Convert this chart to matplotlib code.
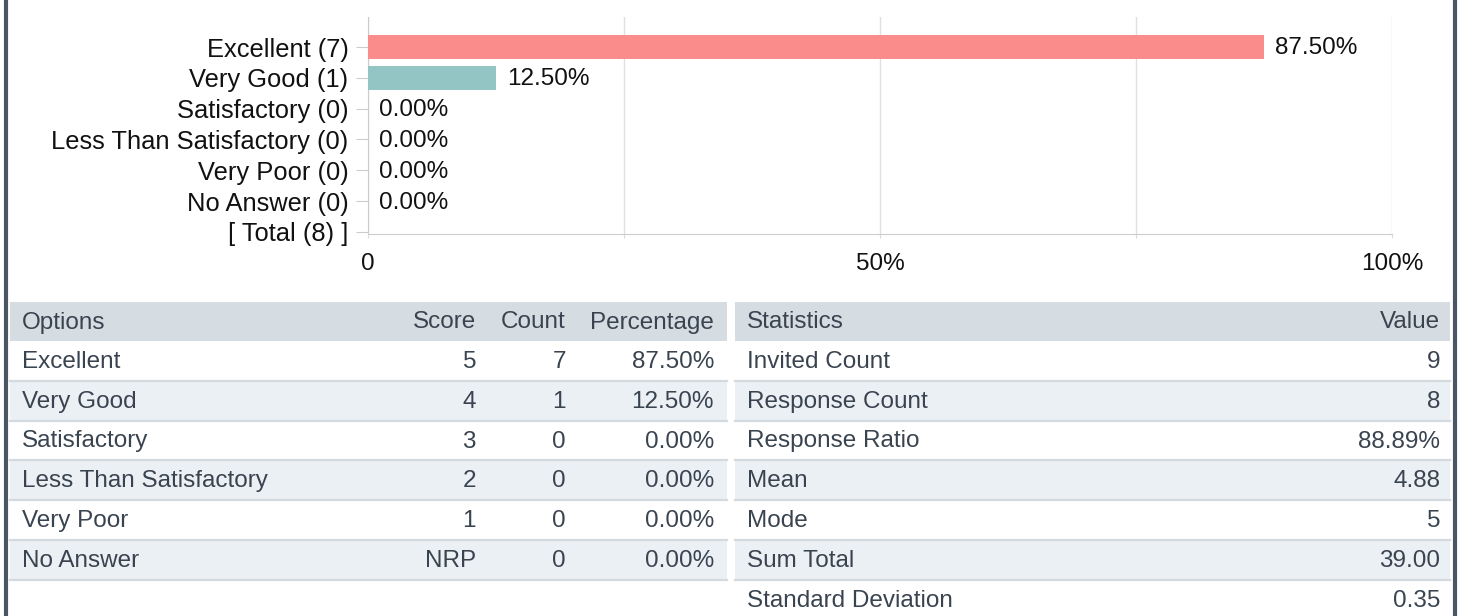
import matplotlib.pyplot as plt
from matplotlib.patches import Rectangle

# ---- data ----
options = ['Excellent', 'Very Good', 'Satisfactory', 'Less Than Satisfactory', 'Very Poor', 'No Answer']
scores = ['5', '4', '3', '2', '1', 'NRP']
counts = [7, 1, 0, 0, 0, 0]
percents = [87.50, 12.50, 0.00, 0.00, 0.00, 0.00]
total = 8
bar_colors = ['#fa8c8c', '#92c5c4', '#cccccc', '#cccccc', '#cccccc', '#cccccc']

stat_names = ['Invited Count', 'Response Count', 'Response Ratio', 'Mean', 'Mode',
              'Sum Total', 'Standard Deviation']
stat_values = ['9', '8', '88.89%', '4.88', '5', '39.00', '0.35']

xticks = [0, 25, 50, 75, 100]
xtick_labels = ['0', '', '50%', '', '100%']

W, H = 1459, 616
FONT = 'Liberation Sans'
TXT = '#111111'
TBL_TXT = '#3a4450'
HEAD_BG = '#d6dde2'
ALT_BG = '#ebf0f4'
SEP = '#d3dae0'
BORDER = '#4b5563'

plt.rcParams['font.family'] = FONT
fig = plt.figure(figsize=(W / 100, H / 100), dpi=100)

# ---- bar chart ----
ax = fig.add_axes([368 / W, 1 - 234 / H, (1392 - 368) / W, (234 - 17) / H])
labels = [f'{o} ({c})' for o, c in zip(options, counts)] + [f'[ Total ({total}) ]']
ypos = list(range(len(labels)))
ax.barh(ypos[:-1], percents, height=0.78, color=bar_colors[:len(percents)], zorder=3)
for y, p in zip(ypos, percents):
    ax.annotate(f'{p:.2f}%', (p, y), xytext=(8, -1), textcoords='offset points',
                va='center', ha='left', fontsize=17.5, color=TXT)
ax.set_xlim(0, 100)
ax.set_ylim(6.065, -0.973)
ax.set_yticks(ypos)
ax.set_yticklabels(labels, fontsize=18.4, color=TXT)
ax.set_xticks(xticks)
ax.set_xticklabels(xtick_labels, fontsize=17.5, color=TXT)
ax.tick_params(axis='y', length=9, color='#cccccc', pad=5)
ax.tick_params(axis='x', length=3, color='#dddddd', pad=11)
ax.grid(axis='x', color='#e0e0e0', lw=1, zorder=0)
for s in ['top', 'right']:
    ax.spines[s].set_visible(False)
for s in ['left', 'bottom']:
    ax.spines[s].set_color('#cccccc')

# ---- tables (pixel coordinates) ----
tb = fig.add_axes([0, 0, 1, 1])
tb.set_xlim(0, W)
tb.set_ylim(H, 0)
tb.axis('off')

HEAD_TOP, HEAD_BOT, ROW_H = 302, 341, 39.8
TFS = 17.5


def draw_table(x0, x1, headers, cols_x, aligns, rows):
    tb.add_patch(Rectangle((x0, HEAD_TOP), x1 - x0, HEAD_BOT - HEAD_TOP, color=HEAD_BG, lw=0))
    for h, cx, al in zip(headers, cols_x, aligns):
        tb.text(cx, (HEAD_TOP + HEAD_BOT) / 2 + 1, h, ha=al, va='center', fontsize=TFS, color=TBL_TXT)
    for i, row in enumerate(rows):
        top = HEAD_BOT + ROW_H * i
        bg = 'white' if i % 2 == 0 else ALT_BG
        tb.add_patch(Rectangle((x0, top), x1 - x0, ROW_H, color=bg, lw=0))
        tb.plot([x0, x1], [top + ROW_H, top + ROW_H], color=SEP, lw=1.6)
        for v, cx, al in zip(row, cols_x, aligns):
            tb.text(cx, top + ROW_H / 2 + 1, v, ha=al, va='center', fontsize=TFS, color=TBL_TXT)


opt_rows = [[o, s, str(c), f'{p:.2f}%'] for o, s, c, p in zip(options, scores, counts, percents)]
draw_table(10, 727, ['Options', 'Score', 'Count', 'Percentage'],
           [22, 476, 566, 714], ['left', 'right', 'right', 'right'], opt_rows)
stat_rows = [[n, v] for n, v in zip(stat_names, stat_values)]
draw_table(735, 1450, ['Statistics', 'Value'], [747, 1440], ['left', 'right'], stat_rows)

# page borders
tb.plot([6, 6], [0, H], color=BORDER, lw=3)
tb.plot([1455, 1455], [0, H], color=BORDER, lw=3)

fig.savefig('out.png', dpi=100)
